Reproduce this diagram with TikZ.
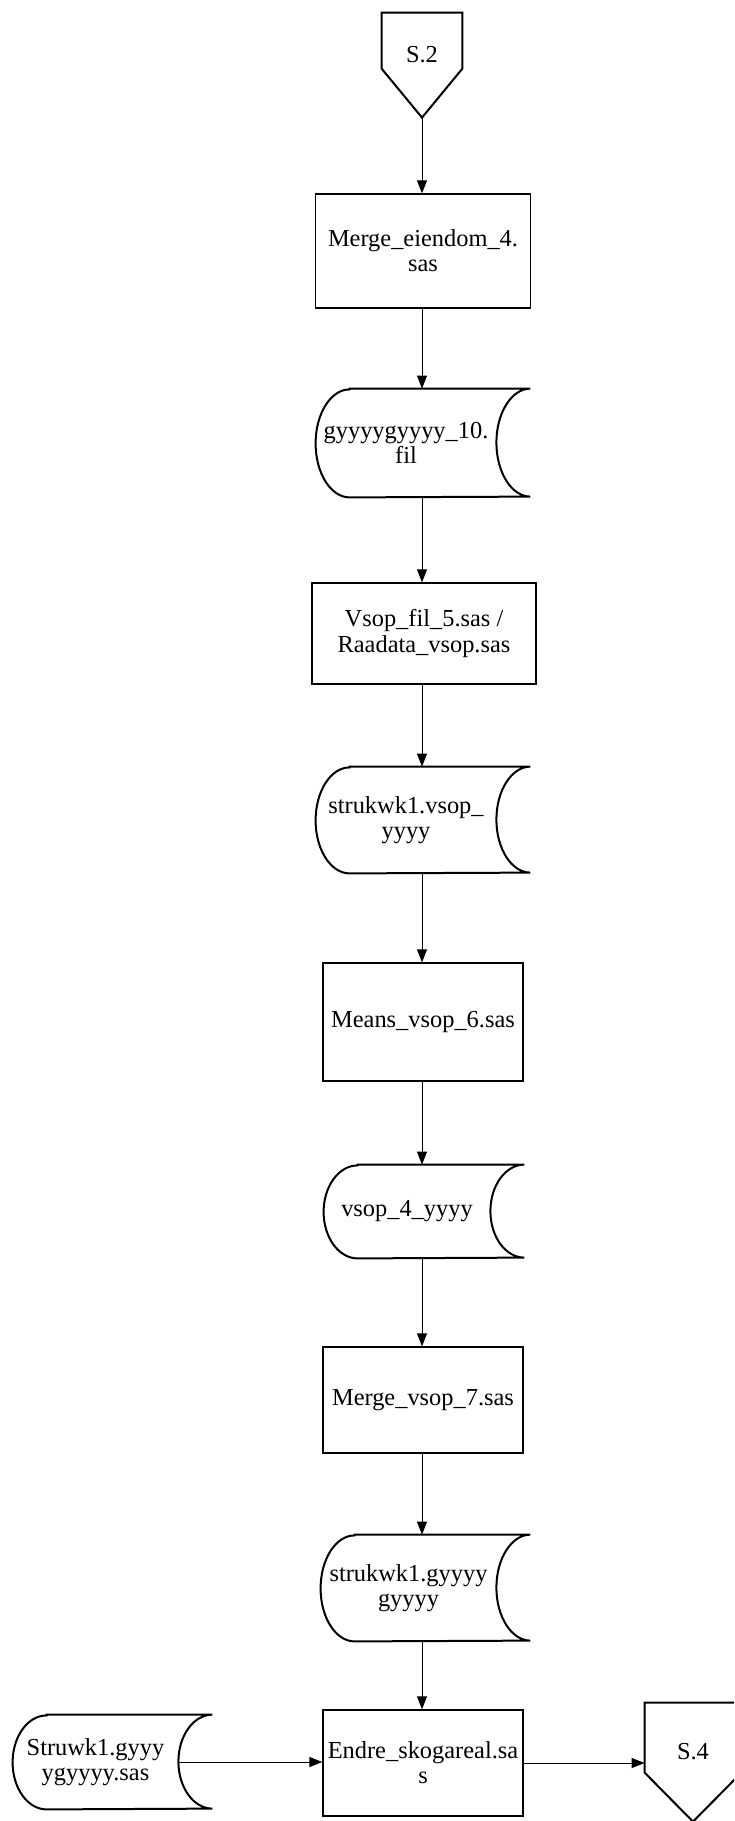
\documentclass[tikz,border=0pt]{standalone}
\usepackage{fontspec}
\setmainfont{Liberation Serif}
\usetikzlibrary{arrows.meta, calc}
\tikzset{
  prog/.style={draw, line width=0.65pt, align=center, inner sep=2pt},
  store/.style={align=center, inner sep=2pt},
  marker/.style={inner sep=0pt},
  flow/.style={-{Triangle[length=6.5pt, width=5pt]}, line width=0.5pt},
}

\begin{document}
\begin{tikzpicture}[x=0.5pt, y=0.5pt, font=\fontsize{12.2}{12.6}\selectfont]
    \clip (0,0) rectangle (734,-1821);
    % off-page markers
    \node[marker, minimum width=40pt, minimum height=42pt] (s2) at (422,-55) {S.2};
    \node[marker, minimum width=48pt, minimum height=49pt] (s4) at (693,-1752) {S.4};
    \draw[line width=1pt] (s2.north west) -- (s2.north east) -- ([yshift=-28pt]s2.north east)
        -- ([yshift=-52.5pt]s2.north) coordinate (s2tip) -- ([yshift=-28pt]s2.north west) -- cycle;
    \draw[line width=1pt] (s4.north west) -- (s4.north east) -- ([yshift=-35pt]s4.north east)
        -- ([yshift=-59.5pt]s4.north) -- ([yshift=-35pt]s4.north west) -- cycle;

    % programs
    \node[prog, minimum width=107.5pt, minimum height=57pt] (box1) at (423,-251) {Merge\_eiendom\_4.\\sas};
    \node[prog, minimum width=112pt, minimum height=50.5pt] (box3) at (424,-633.5) {Vsop\_fil\_5.sas /\\Raadata\_vsop.sas};
    \node[prog, minimum width=100pt, minimum height=59pt] (box5) at (423,-1022) {Means\_vsop\_6.sas};
    \node[prog, minimum width=100pt, minimum height=53pt] (box7) at (423,-1400) {Merge\_vsop\_7.sas};
    \node[prog, minimum width=100pt, minimum height=53pt] (endre) at (423,-1763) {Endre\_skogareal.sa\\s};

    % data files
    \node[store, minimum width=90pt, minimum height=54pt] (fil10) at (406,-443) {gyyyygyyyy\_10.\\fil};
    \node[store, minimum width=90pt, minimum height=53pt] (vsop) at (406,-820) {strukwk1.vsop\_\\yyyy};
    \node[store, minimum width=83pt, minimum height=46.5pt] (vsop4) at (407,-1211.5) {vsop\_4\_yyyy};
    \node[store, minimum width=87.5pt, minimum height=53pt] (struk8) at (408.5,-1588) {strukwk1.gyyyy\\gyyyy};
    \node[store, minimum width=82.5pt, minimum height=47pt] (struwk) at (95.5,-1762) {Struwk1.gyyy\\ygyyyy.sas};
    \foreach \n/\r in {fil10/27pt, vsop/26.5pt, vsop4/23.25pt, struk8/26.5pt, struwk/23.5pt}
        \draw[line width=1pt] ([xshift=17pt]\n.north west) -- ([xshift=17pt]\n.north east)
            arc[start angle=90, end angle=270, x radius=17pt, y radius=\r]
            -- ([xshift=17pt]\n.south west)
            arc[start angle=270, end angle=90, x radius=17pt, y radius=\r] -- cycle;

    % connectors
    \draw[flow] (s2tip) -- (s2tip |- box1.north);
    \foreach \a/\b in {box1/fil10, fil10/box3, box3/vsop, vsop/box5, box5/vsop4, vsop4/box7, box7/struk8, struk8/endre}
        \draw[flow] (s2tip |- \a.south) -- (s2tip |- \b.north);
    \draw[flow] (struwk.east) -- (struwk.east -| endre.west);
    \draw[flow] (endre.east) -- (endre.east -| s4.west);
\end{tikzpicture}
\end{document}
